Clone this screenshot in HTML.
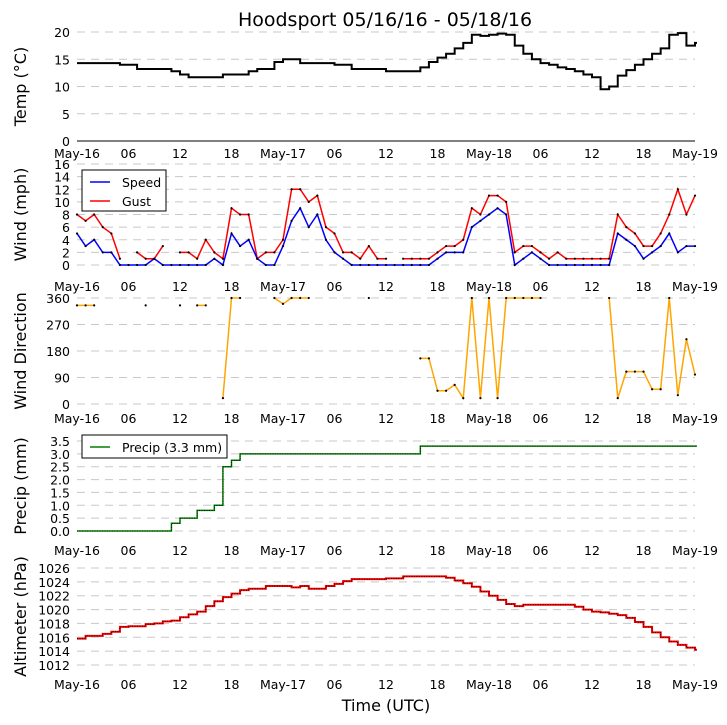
<!DOCTYPE html>
<html><head><meta charset="utf-8"><style>
html,body{margin:0;padding:0;background:#fff;}
svg{display:block;font-family:"DejaVu Sans","Liberation Sans",sans-serif;}
</style></head><body>
<svg id="chart" width="727" height="725" viewBox="0 0 727 725" xmlns="http://www.w3.org/2000/svg">
<text x="385" y="26" font-size="19" text-anchor="middle">Hoodsport 05/16/16 - 05/18/16</text>
<text x="386" y="711" font-size="16" text-anchor="middle">Time (UTC)</text>
</svg>
<script>
const xTickLabels = ["May-16","06","12","18","May-17","06","12","18","May-18","06","12","18","May-19"];
const tempVals = [14.3,14.3,14.3,14.3,14.3,14,14,13.2,13.2,13.2,13.2,12.8,12.2,11.7,11.7,11.7,11.7,12.2,12.2,12.2,12.8,13.2,13.2,14.5,15,15,14.3,14.3,14.3,14.3,14,14,13.2,13.2,13.2,13.2,12.8,12.8,12.8,12.8,13.5,14.5,15.3,16,17,18,19.5,19.3,19.5,19.7,19.5,17.5,16,15,14.3,14,13.5,13.2,12.8,12.2,11.7,9.5,10,12,13,14,15,16,17,19.5,19.8,17.5,18];
const speedVals = [5,3,4,2,2,0,0,0,0,1,0,0,0,0,0,0,1,0,5,3,4,1,0,0,3,7,9,6,8,4,2,1,0,0,0,0,0,0,0,0,0,0,1,2,2,2,6,7,8,9,8,0,1,2,1,0,0,0,0,0,0,0,0,5,4,3,1,2,3,5,2,3,3];
const gustVals = [8,7,8,6,5,1,null,2,1,1,3,null,2,2,1,4,2,1,9,8,8,1,2,2,4,12,12,10,11,6,5,2,2,1,3,1,1,null,1,1,1,1,2,3,3,4,9,8,11,11,10,2,3,3,2,1,2,1,1,1,1,1,1,8,6,5,3,3,5,8,12,8,11];
const dirVals = [335,335,335,null,null,null,null,null,335,null,null,null,335,null,335,335,null,20,360,360,null,null,null,360,340,360,360,360,null,null,null,null,null,null,360,null,null,null,null,null,155,155,45,45,65,20,360,20,360,20,360,360,360,360,360,null,null,null,null,null,null,null,360,20,110,110,110,50,50,360,30,220,100];
const precipVals = [0,0,0,0,0,0,0,0,0,0,0,0.3,0.5,0.5,0.8,0.8,1.0,2.5,2.75,3.0,3.0,3.0,3.0,3.0,3.0,3.0,3.0,3.0,3.0,3.0,3.0,3.0,3.0,3.0,3.0,3.0,3.0,3.0,3.0,3.0,3.3,3.3,3.3,3.3,3.3,3.3,3.3,3.3,3.3,3.3,3.3,3.3,3.3,3.3,3.3,3.3,3.3,3.3,3.3,3.3,3.3,3.3,3.3,3.3,3.3,3.3,3.3,3.3,3.3,3.3,3.3,3.3,3.3];
const altVals = [1015.8,1016.2,1016.2,1016.5,1016.8,1017.5,1017.6,1017.6,1017.9,1018.0,1018.3,1018.4,1018.9,1019.3,1019.7,1020.5,1021.2,1021.8,1022.3,1022.8,1023.0,1023.0,1023.4,1023.4,1023.4,1023.2,1023.4,1023.0,1023.0,1023.4,1023.7,1024.1,1024.4,1024.4,1024.4,1024.4,1024.5,1024.5,1024.8,1024.8,1024.8,1024.8,1024.8,1024.6,1024.2,1023.8,1023.3,1022.6,1022.0,1021.4,1020.8,1020.5,1020.7,1020.7,1020.7,1020.7,1020.7,1020.7,1020.4,1020.0,1019.7,1019.6,1019.4,1019.2,1018.8,1018.2,1017.5,1016.7,1016.0,1015.4,1014.9,1014.5,1014.2];
const tempTicks = [0,5,10,15,20];
const windTicks = [0,2,4,6,8,10,12,14,16];
const dirTicks = [0,90,180,270,360];
const precipTicks = [0,0.5,1,1.5,2,2.5,3,3.5];
const altTicks = [1012,1014,1016,1018,1020,1022,1024,1026];

const svg = document.getElementById('chart');
const NS = 'http://www.w3.org/2000/svg';
const X0 = 77, X1 = 695, HOURS = 72;
function xs(h){ return X0 + h*(X1-X0)/HOURS; }
function mk(tag, attrs, parent){ const e=document.createElementNS(NS,tag); for(const k in attrs) e.setAttribute(k,attrs[k]); (parent||svg).appendChild(e); return e; }
function yScale(v0,v1,py0,py1){ return v=> py0 + (v-v0)*(py1-py0)/(v1-v0); }

const panels = [
 {name:'temp', title:'Temp (\u00B0C)', ys:yScale(0,20,141,32), ticks:tempTicks, fmt:v=>String(v), xl:158, tx:26, baseline:true},
 {name:'wind', title:'Wind (mph)', ys:yScale(0,16,265,164), ticks:windTicks, fmt:v=>String(v), xl:291, tx:26},
 {name:'direction', title:'Wind Direction', ys:yScale(0,360,404,298), ticks:dirTicks, fmt:v=>String(v), xl:423, tx:26},
 {name:'precip', title:'Precip (mm)', ys:yScale(0,3.5,531,441), ticks:precipTicks, fmt:v=>v.toFixed(1), xl:555, tx:26},
 {name:'altimeter', title:'Altimeter (hPa)', ys:yScale(1012,1026,665,568), ticks:altTicks, fmt:v=>String(v), xl:689, tx:26}
];

panels.forEach(p=>{
  const g = mk('g',{});
  
  
  p.g = g;
  p.ticks.forEach(t=>{
    const y = p.ys(t);
    const ln = mk('line',{x1:X0,x2:X1,y1:y,y2:y,stroke:(p.baseline&&t===0)?'#000':'#c8c8c8','stroke-width':1,'stroke-dasharray':(p.baseline&&t===0)?'none':'8,6'},g);
    
    
    const tx = mk('text',{x:X0-7,y:y+5,'font-size':12.5,'text-anchor':'end'},g);
    tx.textContent = p.fmt(t);
    
    
  });
  xTickLabels.forEach((lab,i)=>{
    const tx = mk('text',{x:xs(i*6),y:p.xl,'font-size':12.5,'text-anchor':'middle'},g);
    tx.textContent = lab;
    
    
  });
  const cy = (p.ys(p.ticks[0])+p.ys(p.ticks[p.ticks.length-1]))/2;
  const tt = mk('text',{x:0,y:0,'font-size':16,'text-anchor':'middle',transform:`translate(${p.tx},${cy}) rotate(-90)`},g);
  tt.textContent = p.title;
  
  
});

function stepPath(vals, ys){
  let d='';
  vals.forEach((v,i)=>{ const x=xs(i), y=ys(v); d += (i===0?`M${x},${y}`:`H${x}V${y}`); });
  d += `H${xs(vals.length-1)+2}`;
  return d;
}
function segPaths(vals, ys){
  const out=[]; let cur='';
  vals.forEach((v,i)=>{
    if(v===null){ if(cur) out.push(cur); cur=''; return; }
    cur += (cur?'L':'M')+xs(i)+','+ys(v);
  });
  if(cur) out.push(cur);
  return out;
}
function dots(vals, ys, parent, name){
  vals.forEach((v,i)=>{ if(v===null) return;
    const c = mk('circle',{cx:xs(i),cy:ys(v),r:1.1,fill:'#000'},parent);
    
    
  });
}

let P = panels[0];
let pe = mk('path',{d:stepPath(tempVals,P.ys),fill:'none',stroke:'#000','stroke-width':2},P.g);



P = panels[1];
segPaths(gustVals,P.ys).forEach(d=>{ const e=mk('path',{d:d,fill:'none',stroke:'#ff0000','stroke-width':1.5},P.g);
  
   });
segPaths(speedVals,P.ys).forEach(d=>{ const e=mk('path',{d:d,fill:'none',stroke:'#0000ff','stroke-width':1.5},P.g);
  
   });
dots(gustVals,P.ys,P.g,'gust-point');
dots(speedVals,P.ys,P.g,'speed-point');

P = panels[2];
segPaths(dirVals,P.ys).forEach(d=>{ const e=mk('path',{d:d,fill:'none',stroke:'#ffa500','stroke-width':1.5},P.g);
  
   });
dots(dirVals,P.ys,P.g,'direction-point');

P = panels[3];
pe = mk('path',{d:stepPath(precipVals,P.ys),fill:'none',stroke:'#008000','stroke-width':1.5},P.g);


pe = mk('path',{d:stepPath(precipVals,P.ys),fill:'none',stroke:'#000','stroke-width':0.8,'stroke-dasharray':'1,1.5'},P.g);



P = panels[4];
pe = mk('path',{d:stepPath(altVals,P.ys),fill:'none',stroke:'#ff0000','stroke-width':2},P.g);


pe = mk('path',{d:stepPath(altVals,P.ys),fill:'none',stroke:'#000','stroke-width':0.9,'stroke-dasharray':'1,1.5'},P.g);



function legend(x,y,w,h,items,name){
  const g = mk('g',{});
  
  
  mk('rect',{x:x,y:y,width:w,height:h,fill:'#fff',stroke:'#000','stroke-width':1},g);
  items.forEach((it,i)=>{
    const yy = y+12+i*19;
    mk('line',{x1:x+8,x2:x+28,y1:yy,y2:yy,stroke:it.c,'stroke-width':1.5},g);
    const t = mk('text',{x:x+40,y:yy+5,'font-size':12.5},g);
    t.textContent = it.t;
    
    
  });
}
legend(82,170,84,41,[{c:'#0000ff',t:'Speed'},{c:'#ff0000',t:'Gust'}],'wind-legend');
legend(82,435,145,23,[{c:'#008000',t:'Precip (3.3 mm)'}],'precip-legend');
</script>
</body></html>
